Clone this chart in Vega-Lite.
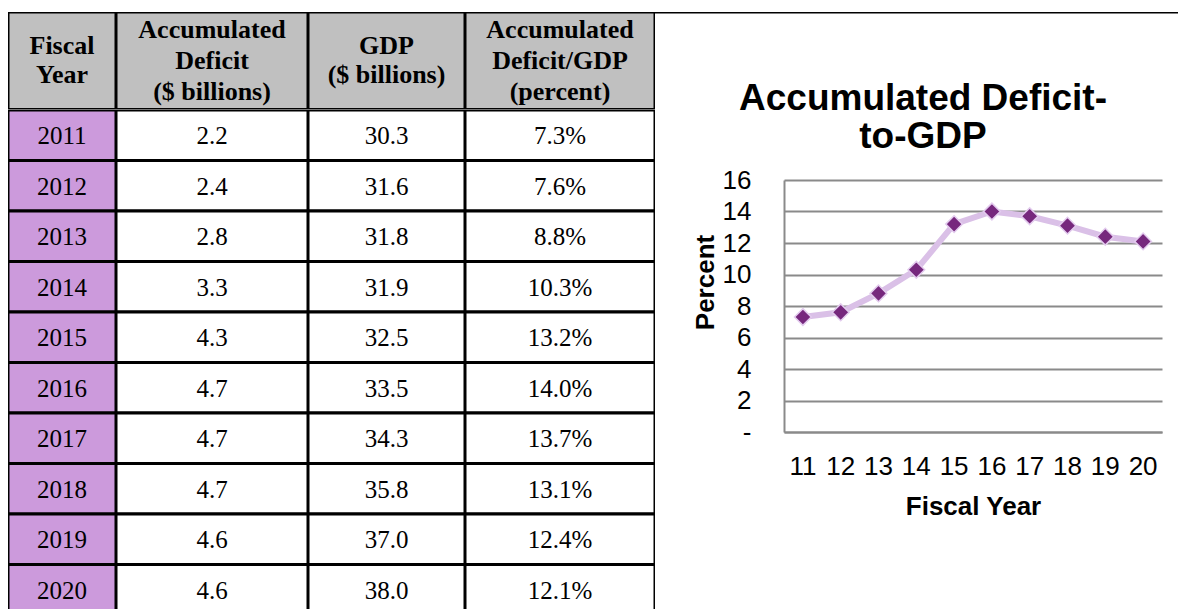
{
  "$schema": "https://vega.github.io/schema/vega-lite/v6.json",
  "padding": {"left": 8, "top": 12, "right": -113, "bottom": -5.5},
  "background": "white",
  "config": {"view": {"stroke": null}, "concat": {"spacing": 0}},
  "datasets": {
    "rows": [
      {"year": 2011, "deficit": 2.2, "gdp": 30.3, "ratio": 0.073},
      {"year": 2012, "deficit": 2.4, "gdp": 31.6, "ratio": 0.076},
      {"year": 2013, "deficit": 2.8, "gdp": 31.8, "ratio": 0.088},
      {"year": 2014, "deficit": 3.3, "gdp": 31.9, "ratio": 0.103},
      {"year": 2015, "deficit": 4.3, "gdp": 32.5, "ratio": 0.132},
      {"year": 2016, "deficit": 4.7, "gdp": 33.5, "ratio": 0.140},
      {"year": 2017, "deficit": 4.7, "gdp": 34.3, "ratio": 0.137},
      {"year": 2018, "deficit": 4.7, "gdp": 35.8, "ratio": 0.131},
      {"year": 2019, "deficit": 4.6, "gdp": 37.0, "ratio": 0.124},
      {"year": 2020, "deficit": 4.6, "gdp": 38.0, "ratio": 0.121}
    ],
    "headers": [
      {"col": "year", "label": ["Fiscal", "Year"]},
      {"col": "deficit", "label": ["Accumulated", "Deficit", "($ billions)"]},
      {"col": "gdp", "label": ["GDP", "($ billions)"]},
      {"col": "ratio", "label": ["Accumulated", "Deficit/GDP", "(percent)"]}
    ],
    "charttitle": [{"edge": "top"}]
  },
  "hconcat": [
    {
      "vconcat": [
        {
          "hconcat": [
            {
              "width": 108, "height": 97.5,
              "data": {"name": "headers"},
              "transform": [{"filter": "datum.col == 'year'"}],
              "layer": [
                {"mark": {"type": "rect", "fill": "#C0C0C0", "stroke": "#000000", "strokeWidth": 3, "clip": true}, "encoding": {}},
                {"mark": {"type": "text", "font": "Liberation Serif", "fontSize": 26, "fontWeight": "bold", "lineHeight": 29.5, "color": "#000000", "baseline": "middle", "dy": -15}, "encoding": {"text": {"field": "label", "type": "nominal"}}}
              ]
            },
            {
              "width": 192, "height": 97.5,
              "data": {"name": "headers"},
              "transform": [{"filter": "datum.col == 'deficit'"}],
              "layer": [
                {"mark": {"type": "rect", "fill": "#C0C0C0", "stroke": "#000000", "strokeWidth": 3, "clip": true}, "encoding": {}},
                {"mark": {"type": "text", "font": "Liberation Serif", "fontSize": 26, "fontWeight": "bold", "lineHeight": 31, "color": "#000000", "baseline": "middle", "dy": -31}, "encoding": {"text": {"field": "label", "type": "nominal"}}}
              ]
            },
            {
              "width": 157, "height": 97.5,
              "data": {"name": "headers"},
              "transform": [{"filter": "datum.col == 'gdp'"}],
              "layer": [
                {"mark": {"type": "rect", "fill": "#C0C0C0", "stroke": "#000000", "strokeWidth": 3, "clip": true}, "encoding": {}},
                {"mark": {"type": "text", "font": "Liberation Serif", "fontSize": 26, "fontWeight": "bold", "lineHeight": 29.5, "color": "#000000", "baseline": "middle", "dy": -15}, "encoding": {"text": {"field": "label", "type": "nominal"}}}
              ]
            },
            {
              "width": 190, "height": 97.5,
              "data": {"name": "headers"},
              "transform": [{"filter": "datum.col == 'ratio'"}],
              "layer": [
                {"mark": {"type": "rect", "fill": "#C0C0C0", "stroke": "#000000", "strokeWidth": 3, "clip": true}, "encoding": {}},
                {"mark": {"type": "text", "font": "Liberation Serif", "fontSize": 26, "fontWeight": "bold", "lineHeight": 31, "color": "#000000", "baseline": "middle", "dy": -31}, "encoding": {"text": {"field": "label", "type": "nominal"}}}
              ]
            }
          ]
        },
        {
          "hconcat": [
            {
              "width": 108, "height": 505,
              "data": {"name": "rows"},
              "encoding": {"y": {"field": "year", "type": "ordinal", "axis": null, "scale": {"type": "band", "paddingInner": 0, "paddingOuter": 0}}},
              "layer": [
                {"mark": {"type": "rect", "fill": "#CC9ADC", "stroke": "#000000", "strokeWidth": 3, "clip": true}},
                {"mark": {"type": "text", "font": "Liberation Serif", "fontSize": 25, "color": "#000000", "baseline": "middle", "dy": 1}, "encoding": {"text": {"field": "year", "type": "ordinal"}}}
              ]
            },
            {
              "width": 192, "height": 505,
              "data": {"name": "rows"},
              "encoding": {"y": {"field": "year", "type": "ordinal", "axis": null, "scale": {"type": "band", "paddingInner": 0, "paddingOuter": 0}}},
              "layer": [
                {"mark": {"type": "rect", "fill": "#FFFFFF", "stroke": "#000000", "strokeWidth": 3, "clip": true}},
                {"mark": {"type": "text", "font": "Liberation Serif", "fontSize": 25, "color": "#000000", "baseline": "middle", "dy": 1}, "encoding": {"text": {"field": "deficit", "type": "quantitative", "format": ".1f"}}}
              ]
            },
            {
              "width": 157, "height": 505,
              "data": {"name": "rows"},
              "encoding": {"y": {"field": "year", "type": "ordinal", "axis": null, "scale": {"type": "band", "paddingInner": 0, "paddingOuter": 0}}},
              "layer": [
                {"mark": {"type": "rect", "fill": "#FFFFFF", "stroke": "#000000", "strokeWidth": 3, "clip": true}},
                {"mark": {"type": "text", "font": "Liberation Serif", "fontSize": 25, "color": "#000000", "baseline": "middle", "dy": 1}, "encoding": {"text": {"field": "gdp", "type": "quantitative", "format": ".1f"}}}
              ]
            },
            {
              "width": 190, "height": 505,
              "data": {"name": "rows"},
              "encoding": {"y": {"field": "year", "type": "ordinal", "axis": null, "scale": {"type": "band", "paddingInner": 0, "paddingOuter": 0}}},
              "layer": [
                {"mark": {"type": "rect", "fill": "#FFFFFF", "stroke": "#000000", "strokeWidth": 3, "clip": true}},
                {"mark": {"type": "text", "font": "Liberation Serif", "fontSize": 25, "color": "#000000", "baseline": "middle", "dy": 1}, "encoding": {"text": {"field": "ratio", "type": "quantitative", "format": ".1%"}}}
              ]
            }
          ]
        }
      ]
    },
    {
      "vconcat": [
        {
          "width": 636, "height": 10,
          "data": {"name": "charttitle"},
          "mark": {"type": "rule", "color": "#000000", "strokeWidth": 3, "clip": true},
          "encoding": {"y": {"datum": 1, "type": "quantitative", "scale": {"domain": [0, 1]}, "axis": null}}
        },
        {
          "width": 378, "height": 252,
          "data": {"name": "rows"},
          "title": {
            "text": ["Accumulated Deficit-", "to-GDP"],
            "font": "Liberation Sans", "fontSize": 37, "fontWeight": "bold", "color": "#000000",
            "lineHeight": 38, "anchor": "middle", "frame": "group", "dx": -50, "offset": 11
          },
          "encoding": {
            "x": {
              "field": "year", "type": "ordinal",
              "scale": {"type": "band", "paddingInner": 0, "paddingOuter": 0},
              "axis": {
                "title": "Fiscal Year", "labelAngle": 0, "labelExpr": "substring(datum.label, 2, 4)",
                "ticks": false, "grid": false, "domainColor": "#8A8A8A", "domainWidth": 2,
                "labelFont": "Liberation Sans", "labelFontSize": 26, "labelColor": "#000000", "labelPadding": 21,
                "labelOverlap": false, "labelFlush": false,
                "titleFont": "Liberation Sans", "titleFontSize": 26, "titleFontWeight": "bold", "titleColor": "#000000", "titlePadding": 14
              }
            },
            "y": {
              "field": "ratio", "type": "quantitative",
              "scale": {"domain": [0, 0.16], "nice": false, "zero": true},
              "axis": {
                "title": "Percent", "values": [0, 0.02, 0.04, 0.06, 0.08, 0.1, 0.12, 0.14, 0.16],
                "labelExpr": "datum.value < 0.001 ? '-' : format(datum.value * 100, '.0f')",
                "ticks": false, "grid": true, "gridColor": "#8A8A8A", "gridWidth": 2,
                "domainColor": "#8A8A8A", "domainWidth": 2,
                "labelFont": "Liberation Sans", "labelFontSize": 26, "labelColor": "#000000", "labelPadding": 33,
                "labelOverlap": false, "labelFlush": false,
                "titleFont": "Liberation Sans", "titleFontSize": 26, "titleFontWeight": "bold", "titleColor": "#000000",
                "titlePadding": 4, "titleY": 102
              }
            }
          },
          "layer": [
            {"mark": {"type": "line", "color": "#DAC0E7", "strokeWidth": 6}},
            {"mark": {"type": "point", "shape": "diamond", "filled": true, "size": 280, "fill": "#76287D", "stroke": "#E3CCEE", "strokeWidth": 1.5, "opacity": 1}}
          ]
        }
      ],
      "center": true,
      "spacing": 58
    }
  ]
}
